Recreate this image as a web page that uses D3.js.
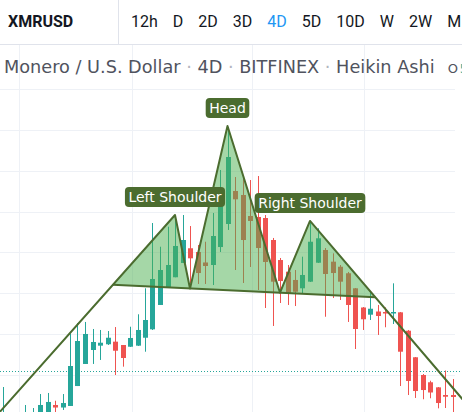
<!DOCTYPE html>
<html>
<head>
<meta charset="utf-8">
<script src="https://cdn.jsdelivr.net/npm/d3@7"></script>
<style>
  body { margin: 0; background: #fff; }
  svg { display: block; font-family: "Trebuchet MS", Roboto, sans-serif; }
</style>
</head>
<body>
<svg id="chart" width="462" height="412"></svg>
<script>
// heikin ashi candles, 4D bars
var opens = [88.8,82.7,80.2,90.0,92.5,99.8,103.5,113.3,110.2,112.1,136.5,163.5,180.6,185.9,187.6,190.8,186.7,184.6,185.9,195.6,205.9,235.7,257.3,269.6,287.1,305.1,300.5,287.7,284.6,306.6,334.8,375.2,370.3,344.6,343.4,342.1,315.2,290.7,276.4,266.3,256.1,264.2,287.4,303.0,288.7,282.5,274.5,256.1,232.6,223.8,227.7,227.1,225.5,226.7,204.2,171.7,150.0,141.1,134.9,125.5,125.5];
var highs = [135.3,102.3,99.8,113.3,109.6,126.7,128.0,118.5,126.7,200.8,213.6,214.9,206.3,205.1,203.8,208.7,186.7,209.1,224.3,256.1,336.0,307.0,331.5,345.8,345.8,332.3,309.1,313.1,348.3,400.9,453.5,392.3,392.3,388.6,393.5,345.8,317.7,293.2,284.6,278.5,294.8,338.8,329.5,305.4,298.9,284.6,276.1,256.5,233.2,251.6,235.7,232.8,262.2,227.1,205.1,172.0,151.2,143.0,135.3,155.5,145.1];
var lows = [82.7,76.6,72.9,85.1,87.6,97.4,102.3,102.3,107.2,112.1,136.5,163.5,163.5,168.4,186.7,150.0,160.2,184.3,185.5,178.5,205.1,235.7,257.3,269.6,287.1,262.2,261.4,261.4,260.1,300.5,327.5,278.5,262.6,282.2,254.0,232.0,210.0,238.1,235.7,234.4,250.0,263.8,287.1,221.3,244.2,241.8,214.9,181.8,205.1,217.3,199.0,208.4,212.4,136.5,125.5,121.9,120.3,121.5,109.2,109.6,102.3];
var closes = [104.7,101.0,97.4,103.5,102.3,113.3,117.0,110.2,115.7,161.0,191.6,200.2,190.4,189.5,195.6,179.7,170.8,195.3,205.1,217.3,267.5,278.5,284.6,307.9,315.2,292.8,274.8,283.4,320.1,376.4,416.8,365.0,315.2,338.5,305.4,288.3,264.2,265.0,250.4,251.9,272.4,313.1,317.3,273.6,274.8,264.2,235.7,206.3,218.2,231.1,222.2,225.5,227.1,178.5,142.7,130.4,131.6,128.6,115.7,123.4,123.1];
var lastPrice = 155.3;

// head and shoulders drawing: bar index / price of each point
var patternIdx = [-1, 23, 25, 30, 37, 41, 62];
var patternPrice = [98.2, 345.8, 255.9, 454.7, 250.7, 338.5, 113.2];
var patternLabels = ["", "Left Shoulder", "", "Head", "", "Right Shoulder", ""];

// grid (time grid in bar index units, price grid)
var timeGrid = [2.2, 17.3, 33.3, 48.2];
var priceGrid = [150, 200, 250, 300, 350, 400, 450, 500];

var symbol = "XMRUSD";
var intervals = ["12h", "D", "2D", "3D", "4D", "5D", "10D", "W", "2W", "M"];
var activeInterval = "4D";
var legendParts = ["Monero / U.S. Dollar", "4D", "BITFINEX", "Heikin Ashi"];

var W = 462, H = 412, topBar = 44;
var up = "#26a69a", down = "#ef5350", hsColor = "#4b6c2f";

var svg = d3.select("#chart");
svg.append("rect").attr("width", W).attr("height", H).attr("fill", "#fff");

var data = opens.map(function(o, i) {
  return {i: i, open: o, high: highs[i], low: lows[i], close: closes[i]};
});

var x = d3.scaleLinear().domain([0, 60]).range([2.5, 452.5]);
var y = d3.scaleLinear().domain([150, 500]).range([375, 89]);

var plot = svg.append("g");

// grid
plot.append("g").selectAll("line").data(priceGrid).enter().append("line")
    .attr("x1", 0).attr("x2", 455)
    .attr("y1", function(d) { return Math.round(y(d)) + 0.5; })
    .attr("y2", function(d) { return Math.round(y(d)) + 0.5; })
    .attr("stroke", "#eef1f6");
plot.append("g").selectAll("line").data(timeGrid).enter().append("line")
    .attr("x1", function(d) { return Math.round(x(d)) + 0.5; })
    .attr("x2", function(d) { return Math.round(x(d)) + 0.5; })
    .attr("y1", topBar).attr("y2", H)
    .attr("stroke", "#eef1f6");

// last price line
plot.append("line")
    .attr("x1", 0).attr("x2", W)
    .attr("y1", Math.round(y(lastPrice)) + 0.5).attr("y2", Math.round(y(lastPrice)) + 0.5)
    .attr("stroke", up).attr("stroke-dasharray", "1,2");

// candles
var candle = plot.append("g").selectAll("g").data(data).enter().append("g")
    .attr("fill", function(d) { return d.close >= d.open ? up : down; })
    .attr("stroke", function(d) { return d.close >= d.open ? up : down; });
candle.append("line")
    .attr("x1", function(d) { return Math.round(x(d.i)) + 0.5; })
    .attr("x2", function(d) { return Math.round(x(d.i)) + 0.5; })
    .attr("y1", function(d) { return y(d.high); })
    .attr("y2", function(d) { return y(d.low); });
candle.append("rect")
    .attr("stroke", "none")
    .attr("x", function(d) { return Math.round(x(d.i)) - 2; })
    .attr("width", 5)
    .attr("y", function(d) { return y(Math.max(d.open, d.close)); })
    .attr("height", function(d) { return Math.max(1.5, Math.abs(y(d.open) - y(d.close))); });

// head and shoulders
var pts = patternIdx.map(function(d, i) { return [x(d), y(patternPrice[i])]; });

function intersect(a, b, c, d) {
  var den = (a[0] - b[0]) * (c[1] - d[1]) - (a[1] - b[1]) * (c[0] - d[0]);
  var t = ((a[0] - c[0]) * (c[1] - d[1]) - (a[1] - c[1]) * (c[0] - d[0])) / den;
  return [a[0] + t * (b[0] - a[0]), a[1] + t * (b[1] - a[1])];
}
var neckL = intersect(pts[0], pts[1], pts[2], pts[4]);
var neckR = intersect(pts[5], pts[6], pts[2], pts[4]);

var hs = svg.append("g");
hs.append("path")
    .attr("d", d3.line()([neckL, pts[1], pts[2], pts[3], pts[4], pts[5], neckR]) + "Z")
    .attr("fill", "rgba(76,175,80,0.5)");
hs.append("path")
    .attr("d", d3.line()(pts))
    .attr("fill", "none").attr("stroke", hsColor).attr("stroke-width", 2)
    .attr("stroke-linejoin", "round");
hs.append("path")
    .attr("d", d3.line()([neckL, neckR]))
    .attr("fill", "none").attr("stroke", hsColor).attr("stroke-width", 2);

var lab = hs.selectAll("g.lab").data(pts.map(function(p, i) { return {p: p, text: patternLabels[i]}; })
      .filter(function(d) { return d.text; }))
    .enter().append("g").attr("class", "lab");
lab.each(function(d) {
  var g = d3.select(this);
  var t = g.append("text")
      .attr("x", d.p[0]).attr("y", d.p[1] - 13)
      .attr("text-anchor", "middle")
      .attr("font-family", "'DejaVu Sans', sans-serif")
      .attr("font-size", 14)
      .attr("fill", "#fff")
      .text(d.text);
  var w = t.node().getComputedTextLength() + 7;
  g.insert("rect", "text")
      .attr("x", d.p[0] - w / 2).attr("y", d.p[1] - 28)
      .attr("width", w).attr("height", 20)
      .attr("rx", 4)
      .attr("fill", hsColor);
});

// legend line
var legend = svg.append("text")
    .attr("x", 4).attr("y", 73)
    .attr("font-family", "'DejaVu Sans', sans-serif")
    .attr("font-size", 17.7)
    .attr("fill", "#50535e");
legendParts.forEach(function(p, i) {
  if (i > 0) legend.append("tspan").attr("fill", "#b2b5be").text(" \u00b7 ");
  legend.append("tspan").text(p);
});
var lw = legend.node().getComputedTextLength();
var ohlc = svg.append("text").attr("x", 4 + lw + 13).attr("y", 73)
    .attr("font-family", "'DejaVu Sans', sans-serif").attr("font-size", 13);
ohlc.append("tspan").attr("fill", "#50535e").text("O");
ohlc.append("tspan").attr("fill", up).attr("dx", 2).text("5");

// top toolbar
svg.append("rect").attr("width", W).attr("height", topBar).attr("fill", "#fff");
svg.append("line").attr("x1", 0).attr("x2", W).attr("y1", topBar + 0.5).attr("y2", topBar + 0.5)
    .attr("stroke", "#e0e3eb");
svg.append("line").attr("x1", 118.5).attr("x2", 118.5).attr("y1", 0).attr("y2", topBar)
    .attr("stroke", "#e0e3eb");
svg.append("text").attr("x", 8).attr("y", 27)
    .attr("font-size", 16).attr("font-weight", "bold").attr("fill", "#131722")
    .text(symbol);

var ix = 131;
intervals.forEach(function(d) {
  var t = svg.append("text").attr("x", ix).attr("y", 27)
      .attr("font-size", 16)
      .attr("fill", d === activeInterval ? "#2196f3" : "#131722")
      .text(d);
  ix += t.node().getComputedTextLength() + 15;
});
</script>
</body>
</html>
